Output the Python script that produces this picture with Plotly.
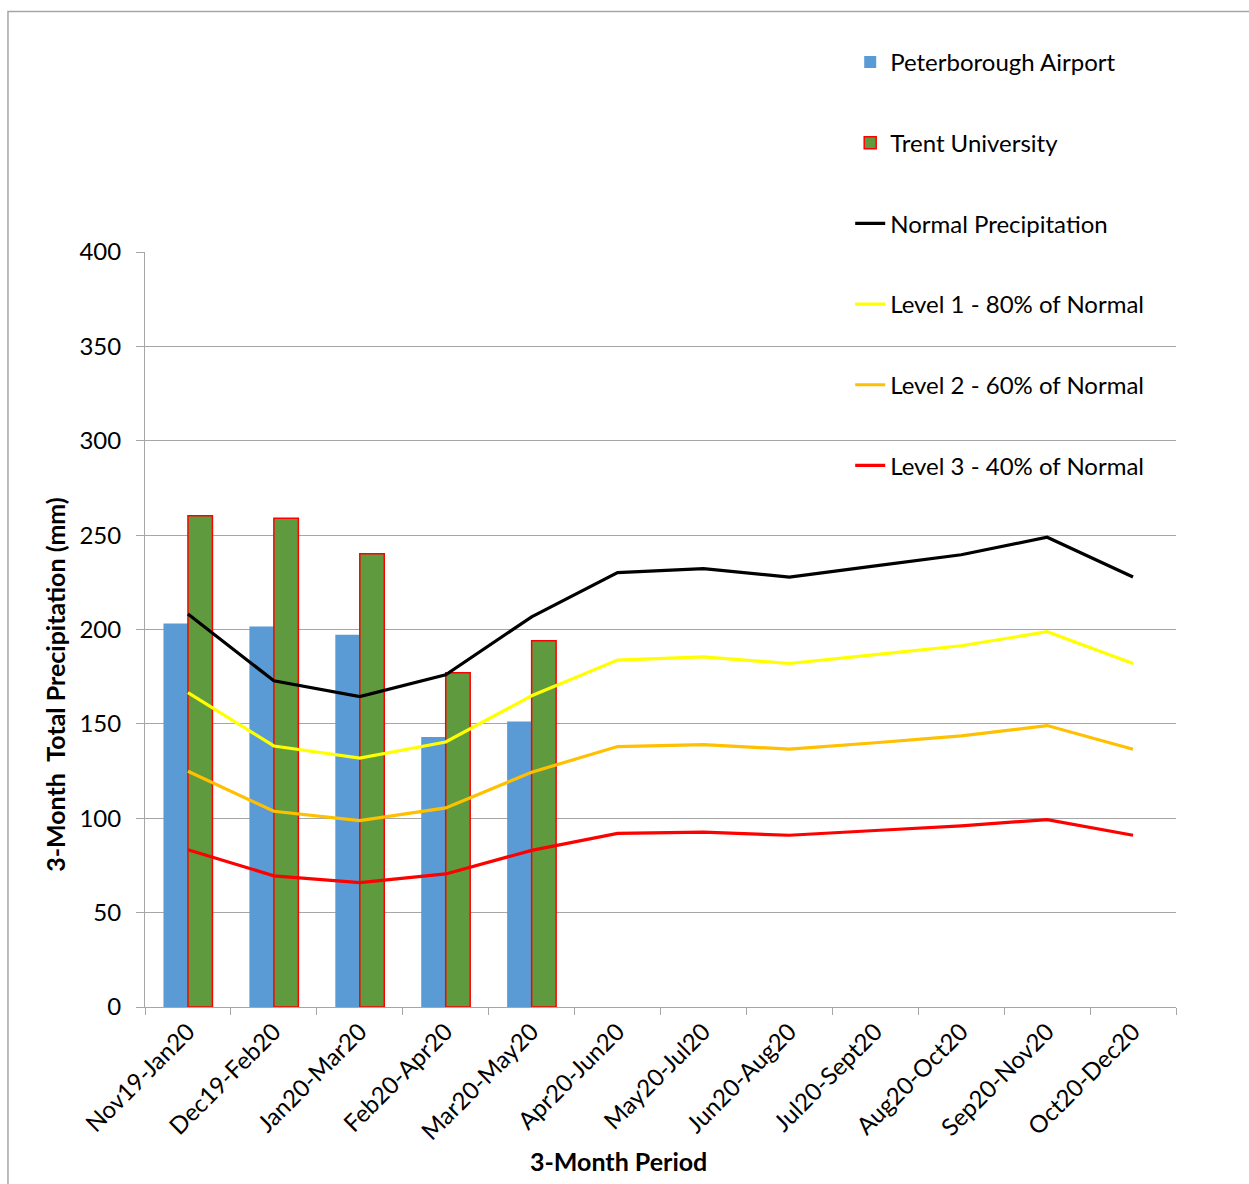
import plotly.graph_objects as go

categories = ["Nov19-Jan20", "Dec19-Feb20", "Jan20-Mar20", "Feb20-Apr20", "Mar20-May20",
              "Apr20-Jun20", "May20-Jul20", "Jun20-Aug20", "Jul20-Sept20", "Aug20-Oct20",
              "Sep20-Nov20", "Oct20-Dec20"]

peterborough_airport = [203.2, 201.6, 197.2, 143.1, 151.2, None, None, None, None, None, None, None]
trent_university = [260.3, 259.0, 240.1, 177.1, 194.1, None, None, None, None, None, None, None]

normal_precip = [208.2, 172.8, 164.5, 176.0, 206.7, 230.1, 232.2, 227.8, 233.7, 239.6, 248.9, 227.8]
level1_80 = [166.5, 138.3, 131.9, 140.4, 164.9, 183.8, 185.5, 182.0, 186.7, 191.4, 198.8, 182.0]
level2_60 = [124.9, 103.7, 98.8, 105.5, 124.4, 138.0, 139.0, 136.6, 140.0, 143.6, 149.1, 136.6]
level3_40 = [83.3, 69.5, 65.9, 70.5, 83.0, 92.0, 92.6, 91.0, 93.5, 96.0, 99.3, 91.0]

FONT = "Lato, 'Open Sans', sans-serif"

fig = go.Figure()
fig.add_trace(go.Bar(x=categories, y=peterborough_airport, name="Peterborough Airport",
                     marker=dict(color="#5B9BD5", line=dict(width=0)), legendgroup="a"))
fig.add_trace(go.Bar(x=categories, y=trent_university, name="Trent University",
                     marker=dict(color="#5F9A3E", line=dict(color="#FF0000", width=1.5)),
                     legendgroup="b"))
line_specs = [
    (normal_precip, "Normal Precipitation", "#000000", "c"),
    (level1_80, "Level 1 - 80% of Normal", "#FFFF00", "d"),
    (level2_60, "Level 2 - 60% of Normal", "#FFC000", "e"),
    (level3_40, "Level 3 - 40% of Normal", "#FF0000", "f"),
]
for vals, name, color, grp in line_specs:
    fig.add_trace(go.Scatter(x=categories, y=vals, name=name, mode="lines",
                             line=dict(color=color, width=3.2), legendgroup=grp,
                             connectgaps=True))

fig.update_layout(
    width=1249, height=1184,
    margin=dict(l=145, r=73, t=252, b=177),
    paper_bgcolor="white", plot_bgcolor="white",
    font=dict(family=FONT, size=24, color="#000000"),
    barmode="group", bargap=0.43, bargroupgap=0,
    showlegend=True,
    legend=dict(x=0.684, y=1.281, xanchor="left", yanchor="top",
                bgcolor="rgba(0,0,0,0)", borderwidth=0,
                tracegroupgap=46.5, traceorder="grouped",
                font=dict(family=FONT, size=24, color="#000000")),
    xaxis=dict(type="category", tickangle=-45, showgrid=False,
               showline=True, linecolor="#A6A6A6", linewidth=1,
               ticks="outside", tickson="boundaries", ticklen=7, tickcolor="#A6A6A6",
               tickfont=dict(family=FONT, size=24), zeroline=False),
    yaxis=dict(range=[0, 400], dtick=50, showgrid=True, gridcolor="#A6A6A6", gridwidth=1,
               showline=True, linecolor="#A6A6A6", linewidth=1,
               ticks="outside", ticklen=8, tickcolor="#A6A6A6", ticklabelstandoff=10,
               tickfont=dict(family=FONT, size=24), zeroline=False),
    annotations=[
        dict(text="<b>3-Month Period</b>", xref="paper", yref="paper",
             x=0.4588, y=-0.204, xanchor="center", yanchor="middle", showarrow=False,
             font=dict(family=FONT, size=25)),
        dict(text="<b>3-Month\u00a0 Total Precipitation (mm)</b>", xref="paper", yref="paper",
             x=-0.0873, y=0.428, xanchor="center", yanchor="middle", showarrow=False,
             textangle=-90, font=dict(family=FONT, size=25)),
    ],
    shapes=[
        dict(type="rect", xref="paper", yref="paper", x0=-0.1329, x1=1.09, y0=-0.26, y1=1.3186,
             line=dict(color="#A6A6A6", width=1.5), fillcolor="rgba(0,0,0,0)", layer="below"),
    ],
)

fig.write_html("out.html")
